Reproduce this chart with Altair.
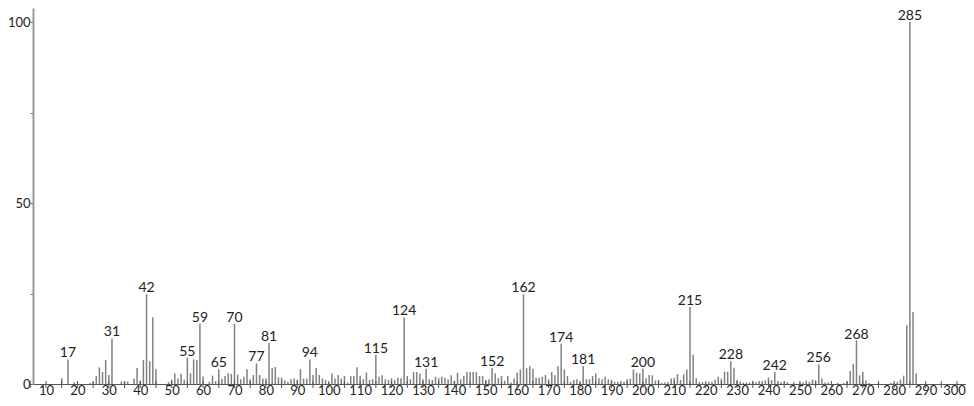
import altair as alt
import pandas as pd

# m/z values and relative intensities
mz = [15, 17, 19, 24, 25, 26, 27, 28, 29, 30, 31, 34, 35, 36, 38, 39, 40, 41, 42, 43, 44, 45,
      49, 50, 51, 52, 53, 54, 55, 56, 57, 58, 59, 60, 62, 63, 64, 65, 66, 67, 68, 69, 70,
      71, 72, 73, 74, 75, 76, 77, 78, 79, 80, 81, 82, 83, 84, 85, 86, 87, 88, 89, 90,
      91, 92, 93, 94, 95, 96, 97, 98, 99, 100, 101, 102, 103, 104, 105, 106, 107, 108, 109, 110,
      111, 112, 113, 114, 115, 116, 117, 118, 119, 120, 121, 122, 123, 124, 125, 126, 127, 128, 129, 130,
      131, 132, 133, 134, 135, 136, 137, 138, 139, 140, 141, 142, 143, 144, 145, 146, 147, 148, 149, 150,
      151, 152, 153, 154, 155, 156, 157, 158, 159, 160, 161, 162, 163, 164, 165, 166, 167, 168, 169, 170,
      171, 172, 173, 174, 175, 176, 177, 178, 179, 180, 181, 182, 183, 184, 185, 186, 187, 188, 189, 190,
      191, 192, 193, 194, 195, 196, 197, 198, 199, 200, 201, 202, 203, 204, 205, 206, 207, 208, 209, 210,
      211, 212, 213, 214, 215, 216, 217, 218, 219, 220, 221, 222, 223, 224, 225, 226, 227, 228, 229, 230,
      231, 232, 233, 234, 235, 236, 237, 238, 239, 240, 241, 242, 243, 244, 245, 246, 248, 250,
      251, 252, 253, 254, 255, 256, 257, 258, 259, 262, 264, 265, 266, 267, 268, 269, 270,
      271, 272, 275, 279, 280, 281, 282, 283, 284, 285, 286, 287]
intensity = [1.6, 6.8, 0.5, 0.3, 0.5, 2.2, 4.6, 3.3, 6.6, 2.5, 12.6, 0.7, 0.7, 0.7, 1.5, 4.4, 1.0, 6.6, 24.8, 6.3, 18.4, 4.1,
             0.5, 1.2, 3.0, 1.5, 2.8, 1.2, 7.3, 3.0, 6.8, 6.6, 16.7, 2.1, 0.6, 2.3, 0.8, 4.1, 1.4, 2.2, 3.0, 2.8, 16.6,
             2.6, 1.3, 2.0, 4.1, 1.3, 2.5, 5.7, 2.5, 1.5, 1.5, 11.3, 4.4, 4.7, 1.8, 1.8, 1.0, 0.6, 1.3, 1.5, 1.2,
             4.1, 1.5, 1.5, 6.8, 2.5, 4.4, 2.5, 1.5, 1.1, 0.4, 2.9, 1.5, 2.5, 1.5, 2.2, 0.4, 2.2, 2.2, 4.6, 2.3,
             1.3, 3.2, 1.1, 1.3, 8.1, 2.0, 2.4, 1.3, 1.1, 1.6, 1.1, 1.7, 1.6, 18.4, 2.2, 1.3, 3.3, 3.3, 2.9, 1.3,
             4.2, 1.3, 1.1, 2.0, 1.6, 2.0, 1.7, 1.3, 2.4, 0.9, 3.1, 1.3, 2.2, 3.3, 3.3, 3.3, 3.3, 2.2, 2.2, 1.1,
             1.3, 4.4, 2.9, 1.6, 2.2, 0.9, 2.2, 0.4, 1.5, 3.1, 4.0, 24.8, 4.4, 4.9, 4.2, 1.7, 1.7, 2.0, 2.5, 1.3,
             3.3, 2.5, 4.9, 11.1, 4.0, 2.2, 0.6, 1.1, 1.3, 0.4, 4.9, 1.3, 1.3, 2.2, 2.9, 1.6, 1.3, 2.0, 1.3, 1.1,
             0.6, 0.6, 0.8, 0.6, 1.3, 1.5, 4.0, 3.1, 2.9, 4.2, 1.6, 2.5, 2.4, 1.0, 1.1, 0.3, 0.4, 0.5, 1.5, 1.7,
             2.7, 1.1, 2.7, 4.0, 21.3, 8.1, 1.6, 0.6, 0.5, 0.3, 0.6, 0.6, 1.2, 2.0, 1.5, 3.4, 3.4, 6.3, 4.5, 1.1,
             0.7, 0.4, 0.4, 0.4, 0.6, 0.5, 0.8, 0.8, 1.0, 1.8, 1.1, 3.3, 0.8, 0.5, 0.5, 0.5, 0.5, 0.4,
             0.4, 1.0, 0.6, 1.2, 1.0, 5.4, 1.5, 0.4, 0.4, 0.3, 0.3, 0.7, 3.6, 5.6, 12.0, 2.4, 3.3,
             1.0, 0.3, 0.3, 0.3, 0.3, 0.6, 1.2, 2.3, 16.2, 100.0, 19.9, 2.9]

labeled_peaks = [17, 31, 42, 55, 59, 65, 70, 77, 81, 94, 115, 124, 131, 152, 162, 174, 181,
                 200, 215, 228, 242, 256, 268, 285]
x_label_values = list(range(10, 301, 10))
x_tick_values = list(range(5, 301, 5))
y_tick_values = [0, 25, 50, 75, 100]

FONT = "Lato"
PAD_LEFT = 25
PLOT_W, PLOT_H = 958 - PAD_LEFT, 376

df = pd.DataFrame({"mz": mz, "intensity": intensity})
df_lab = df[df["mz"].isin(labeled_peaks)].copy()
df_lab["label"] = df_lab["mz"].astype(str)
df_ticks = pd.DataFrame({"mz": x_tick_values})

px_per_unit = 3.1414
x_lo = 10 - (46 - 8 - PAD_LEFT) / px_per_unit
x_hi = x_lo + PLOT_W / px_per_unit
xscale = alt.Scale(domain=[x_lo, x_hi], nice=False, zero=False)
yscale = alt.Scale(domain=[0, 103.9], nice=False)

last_label_shift = {"condition": {"test": "datum.value == 300", "value": -3}, "value": 0}

xaxis = alt.Axis(values=x_label_values, ticks=False, grid=False, title=None,
                 domainColor="#555", domainWidth=1, labelFont=FONT, labelFontSize=13,
                 labelColor="#222", labelPadding=0, labelFlush=False, labelOverlap=False,
                 labelOffset=last_label_shift)
yaxis = alt.Axis(values=y_tick_values, grid=False, title=None,
                 labelExpr="datum.value % 50 == 0 ? datum.label : ''",
                 domainColor="#9a9a9a", domainWidth=2, tickColor="#666", tickSize=3,
                 labelFont=FONT, labelFontSize=13, labelColor="#222", labelPadding=0,
                 labelOverlap=False)

bars = alt.Chart(df).mark_rule(color="#808080", strokeWidth=1.5).encode(
    x=alt.X("mz:Q", scale=xscale, axis=xaxis),
    y=alt.Y("intensity:Q", scale=yscale, axis=yaxis),
    y2=alt.datum(0),
)

labels = alt.Chart(df_lab).mark_text(baseline="alphabetic", dy=-2, font=FONT, fontSize=14,
                                     color="#222").encode(
    x=alt.X("mz:Q", scale=xscale, axis=xaxis),
    y=alt.Y("intensity:Q", scale=yscale, axis=yaxis),
    text="label:N",
)

ticks = alt.Chart(df_ticks).mark_rule(color="#555", strokeWidth=1).encode(
    x=alt.X("mz:Q", scale=xscale, axis=xaxis),
    y=alt.value(PLOT_H - 3),
    y2=alt.value(PLOT_H + 4),
)

chart = alt.layer(bars, ticks, labels).properties(
    width=PLOT_W, height=PLOT_H,
    autosize=alt.AutoSizeParams(type="none"),
    padding={"left": PAD_LEFT, "top": 0, "right": 0, "bottom": 14},
).configure_view(stroke=None).configure_axis(labelOverlap=False)

chart.save("out.html", embed_options={"renderer": "svg", "actions": False})
